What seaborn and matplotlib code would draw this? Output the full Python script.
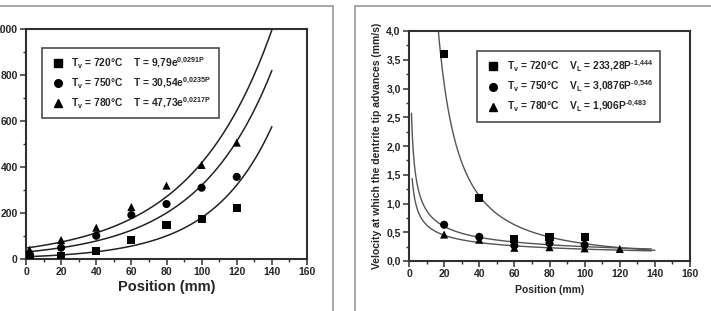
import numpy as np
import pandas as pd
import matplotlib
matplotlib.use("Agg")
import matplotlib.pyplot as plt
from matplotlib.lines import Line2D
from matplotlib.ticker import MultipleLocator, FuncFormatter
import seaborn as sns

# ---------------- data ----------------
positions = [2, 20, 40, 60, 80, 100, 120]
temp_720 = [8, 13, 33, 83, 149, 174, 220]
temp_750 = [22, 49, 101, 191, 239, 310, 357]
temp_780 = [40, 83, 136, 226, 319, 409, 506]

vel_pos_720 = [20, 40, 60, 80, 100]
vel_720 = [3.6, 1.1, 0.39, 0.42, 0.41]
vel_pos_750 = [20, 40, 60, 80, 100]
vel_750 = [0.63, 0.42, 0.27, 0.31, 0.28]
vel_pos_780 = [20, 40, 60, 80, 100, 120]
vel_780 = [0.46, 0.37, 0.23, 0.24, 0.22, 0.21]

# fit coefficients shown in the legends
exp_a = [9.79, 30.54, 47.73]
exp_b = [0.0291, 0.0235, 0.0217]
pow_a = [233.28, 3.0876, 1.906]
pow_b = [-1.444, -0.546, -0.483]
pow_start = [10, 1.4, 1.8]
pow_end = [140, 138, 138]

left_labels = [r"T$_v$ = 720°C    T = 9,79e$^{0{,}0291P}$",
               r"T$_v$ = 750°C    T = 30,54e$^{0{,}0235P}$",
               r"T$_v$ = 780°C    T = 47,73e$^{0{,}0217P}$"]
right_labels = [r"T$_v$ = 720°C    V$_L$ = 233,28P$^{\text{-}1{,}444}$",
                r"T$_v$ = 750°C    V$_L$ = 3,0876P$^{\text{-}0{,}546}$",
                r"T$_v$ = 780°C    V$_L$ = 1,906P$^{\text{-}0{,}483}$"]
markers = ["s", "o", "^"]

# ---------------- style ----------------
sns.set_style("ticks")
plt.rcParams["font.family"] = ["Liberation Sans", "DejaVu Sans"]
plt.rcParams["font.weight"] = "bold"
plt.rcParams["mathtext.fontset"] = "custom"
plt.rcParams["mathtext.rm"] = "Liberation Sans:bold"
plt.rcParams["mathtext.bf"] = "Liberation Sans:bold"
plt.rcParams["mathtext.default"] = "bf"

fig = plt.figure(figsize=(7.11, 3.11), dpi=100)
W, H = 711, 311
axL = fig.add_axes([26 / W, 1 - 259 / H, 281 / W, 230 / H])
axR = fig.add_axes([409 / W, 1 - 261 / H, 281 / W, 230 / H])

# frames around the panels
fc = "#9a9a9a"
for (x0, y0, x1, y1) in [(0, 6, 333, 6), (333, 6, 333, 311), (355, 6, 711, 6), (355, 6, 355, 311)]:
    fig.add_artist(Line2D([x0 / W, x1 / W], [1 - y0 / H, 1 - y1 / H],
                          transform=fig.transFigure, color=fc, lw=1.2))

# ---------------- left panel ----------------
temps = [temp_720, temp_750, temp_780]
for i in range(3):
    xs = np.linspace(0, 140, 200)
    df_c = pd.DataFrame({"x": xs, "y": exp_a[i] * np.exp(exp_b[i] * xs)})
    sns.lineplot(data=df_c, x="x", y="y", ax=axL, color="#222222", lw=1.1, legend=False)
    df_p = pd.DataFrame({"x": positions, "y": temps[i]})
    sns.scatterplot(data=df_p, x="x", y="y", ax=axL, marker=markers[i], color="black",
                    s=34, edgecolor="none", legend=False, zorder=5)

axL.set_xlim(0, 160)
axL.set_ylim(0, 1000)
axL.xaxis.set_major_locator(MultipleLocator(20))
axL.xaxis.set_minor_locator(MultipleLocator(10))
axL.yaxis.set_major_locator(MultipleLocator(200))
axL.yaxis.set_minor_locator(MultipleLocator(100))
axL.set_xlabel("Position (mm)", fontsize=10.5, fontweight="bold", labelpad=2)
axL.set_ylabel("")

# ---------------- right panel ----------------
vpos = [vel_pos_720, vel_pos_750, vel_pos_780]
vels = [vel_720, vel_750, vel_780]
for i in range(3):
    xs = np.linspace(pow_start[i], pow_end[i], 400)
    df_c = pd.DataFrame({"x": xs, "y": pow_a[i] * xs ** pow_b[i]})
    sns.lineplot(data=df_c, x="x", y="y", ax=axR, color="#555555", lw=1.0, legend=False)
    df_p = pd.DataFrame({"x": vpos[i], "y": vels[i]})
    sns.scatterplot(data=df_p, x="x", y="y", ax=axR, marker=markers[i], color="black",
                    s=34, edgecolor="none", legend=False, zorder=5)

axR.set_xlim(0, 160)
axR.set_ylim(0, 4.0)
axR.xaxis.set_major_locator(MultipleLocator(20))
axR.xaxis.set_minor_locator(MultipleLocator(10))
axR.yaxis.set_major_locator(MultipleLocator(0.5))
axR.yaxis.set_minor_locator(MultipleLocator(0.25))
axR.yaxis.set_major_formatter(FuncFormatter(lambda v, p: f"{v:.1f}".replace(".", ",")))
axR.set_xlabel("Position (mm)", fontsize=7.5, fontweight="bold", labelpad=4)
axR.set_ylabel("Velocity at which the dentrite tip advances (mm/s)", fontsize=7.5,
               fontweight="bold", labelpad=3)

for ax in (axL, axR):
    for s in ax.spines.values():
        s.set_visible(True)
        s.set_linewidth(1.5)
        s.set_color("#303030")
    ax.tick_params(which="major", direction="out", length=4, width=1.1, labelsize=7.5,
                   pad=2, color="#303030")
    ax.tick_params(which="minor", direction="out", length=2.2, width=1.0, color="#303030")
    for lab in ax.get_xticklabels() + ax.get_yticklabels():
        lab.set_fontweight("bold")

def make_legend(ax, labels, anchor):
    handles = [Line2D([], [], marker=m, color="black", ls="none", markersize=5.5)
               for m in markers]
    leg = ax.legend(handles, labels, loc="upper left", bbox_to_anchor=anchor,
                    borderaxespad=0, fancybox=False, frameon=True, fontsize=7.4,
                    handletextpad=0.5, labelspacing=0.45, borderpad=0.75,
                    handlelength=1.6)
    leg.get_frame().set_edgecolor("#202020")
    leg.get_frame().set_linewidth(1.2)
    for t in leg.get_texts():
        t.set_fontweight("bold")
    return leg

make_legend(axL, left_labels, (0.056, 0.919))
make_legend(axR, right_labels, (0.243, 0.914))

fig.savefig("out.png", dpi=100)
